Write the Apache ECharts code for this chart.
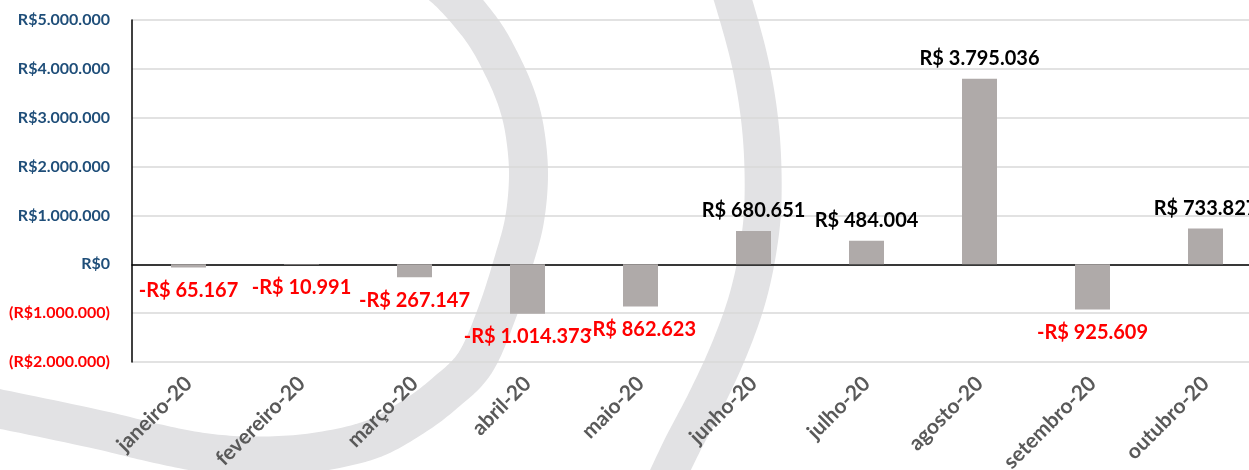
<!DOCTYPE html>
<html>
<head>
<meta charset="utf-8">
<script src="https://cdn.jsdelivr.net/npm/echarts@6/dist/echarts.min.js"></script>
<style>
html,body{margin:0;padding:0;background:#fff;}
#chart{width:1249px;height:470px;}
</style>
</head>
<body>
<div id="chart"></div>
<script>
const categories = ['janeiro-20','fevereiro-20','março-20','abril-20','maio-20','junho-20','julho-20','agosto-20','setembro-20','outubro-20'];
const values = [-65167, -10991, -267147, -1014373, -862623, 680651, 484004, 3795036, -925609, 733827];
const yTicks = [-2000000, -1000000, 0, 1000000, 2000000, 3000000, 4000000, 5000000];

function fmtThousands(n){
  return Math.abs(n).toString().replace(/\B(?=(\d{3})+(?!\d))/g, '.');
}
function barLabel(v){
  return (v < 0 ? '-' : '') + 'R$ ' + fmtThousands(v);
}
function axisLabel(v){
  if (v === 0) return '{pos|R$0}';
  if (v < 0) return '{neg|(R$' + fmtThousands(v) + ')}';
  return '{pos|R$' + fmtThousands(v) + '}';
}

// decorative watermark arcs (background, not data): smooth Catmull-Rom curve sampled densely
function catmullRomPoints(pts){
  const out = [];
  for (let i = 0; i < pts.length - 1; i++) {
    const p0 = pts[i - 1] || pts[i];
    const p1 = pts[i];
    const p2 = pts[i + 1];
    const p3 = pts[i + 2] || p2;
    for (let k = 0; k < 12; k++) {
      const t = k / 12, t2 = t * t, t3 = t2 * t;
      const f = (a, b, c, d) => 0.5 * ((2 * b) + (-a + c) * t + (2 * a - 5 * b + 4 * c - d) * t2 + (-a + 3 * b - 3 * c + d) * t3);
      out.push([f(p0[0], p1[0], p2[0], p3[0]), f(p0[1], p1[1], p2[1], p3[1])]);
    }
  }
  out.push(pts[pts.length - 1]);
  return out;
}
const arc1 = [[406,-40],[435,-20],[457,0],[484,33],[503,67],[517,100],[525,133],[528.5,175],[524.5,220],[514,260],[497,313],[475,363],[445,393],[413,417],[370,440],[310,453],[250,456],[200,452],[150,442],[100,430],[0,409],[-60,398]];
const arc2 = [[719,-40],[733,0],[751,67],[761,133],[763,200],[758,250],[747,300],[729,350],[706,400],[680,450],[652,510]];

const FONT = 'Lato';
const arcColor = '#e2e2e4';

const seriesData = values.map(v => ({
  value: v,
  label: v < 0
    ? {position: 'bottom', distance: 12, color: '#ff0000'}
    : {position: 'top', distance: 9, color: '#000000'}
}));

const chart = echarts.init(document.getElementById('chart'), null, {renderer: 'canvas'});
chart.setOption({
  animation: false,
  backgroundColor: '#ffffff',
  graphic: [
    {
      type: 'polyline', z: -100, silent: true,
      shape: {points: catmullRomPoints(arc1)},
      style: {stroke: arcColor, lineWidth: 39, fill: null, lineJoin: 'round'}
    },
    {
      type: 'polyline', z: -100, silent: true,
      shape: {points: catmullRomPoints(arc2)},
      style: {stroke: arcColor, lineWidth: 37, fill: null, lineJoin: 'round'}
    }
  ],
  grid: {left: 132, top: 20, width: 1130, height: 342, containLabel: false, outerBoundsMode: 'none'},
  xAxis: {
    type: 'category',
    data: categories,
    axisLine: {show: true, onZero: true, lineStyle: {color: '#000000', width: 1.5}},
    axisTick: {show: false},
    axisLabel: {
      interval: 0, rotate: 45, margin: 18,
      color: '#595959', fontFamily: FONT, fontWeight: 'bold', fontSize: 21
    },
    splitLine: {show: false}
  },
  yAxis: {
    type: 'value',
    min: yTicks[0], max: yTicks[yTicks.length - 1], interval: 1000000,
    axisLine: {show: true, lineStyle: {color: '#000000', width: 1.5}},
    axisTick: {show: false},
    splitLine: {show: true, lineStyle: {color: '#d9d9d9', width: 1.5}},
    axisLabel: {
      margin: 22,
      formatter: axisLabel,
      rich: {
        pos: {color: '#1f4e79', fontFamily: FONT, fontWeight: 'bold', fontSize: 16},
        neg: {color: '#ff0000', fontFamily: FONT, fontWeight: 'bold', fontSize: 16}
      }
    }
  },
  series: [{
    type: 'bar',
    data: seriesData,
    barWidth: 35,
    itemStyle: {color: '#afaaa9'},
    label: {
      show: true,
      formatter: p => barLabel(p.value),
      fontFamily: FONT, fontWeight: 'bold', fontSize: 20, lineHeight: 22
    }
  }]
});
</script>
</body>
</html>
